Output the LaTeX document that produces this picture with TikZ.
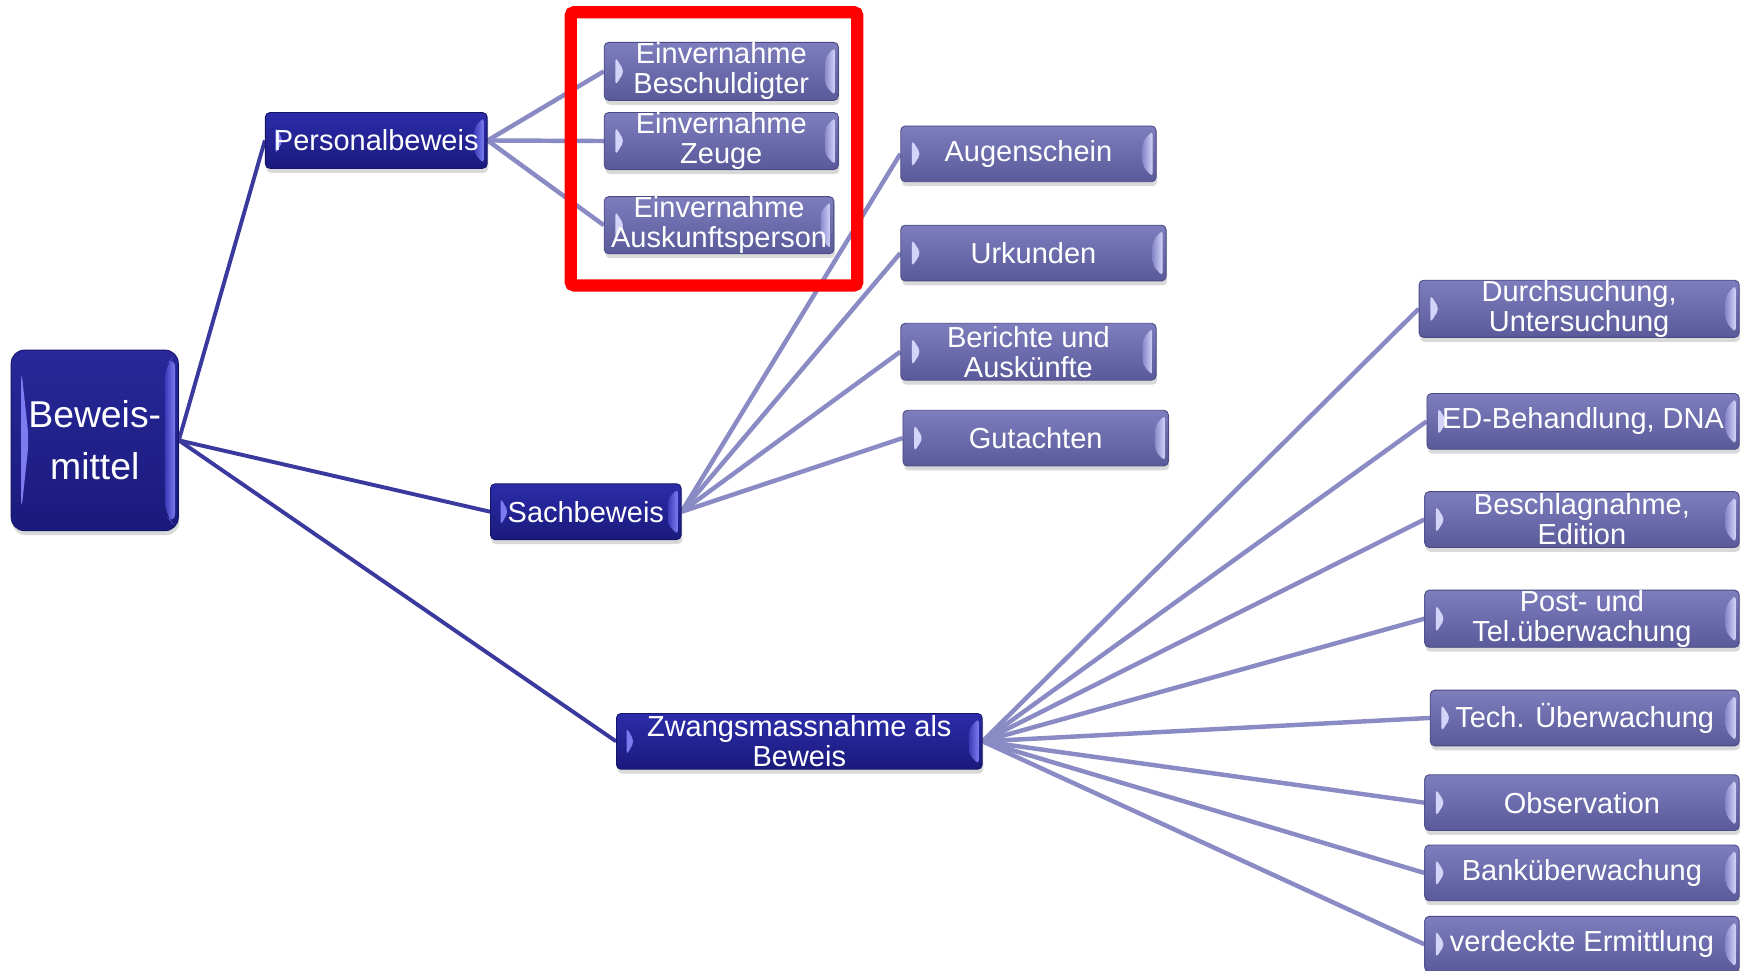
\documentclass[tikz,border=0pt]{standalone}
\usepackage{fontspec}
\setmainfont{Liberation Sans}
\usetikzlibrary{calc,shadows,backgrounds}
\definecolor{lavtop}{HTML}{7E7EBE}
\definecolor{lavbot}{HTML}{5A5A9A}
\definecolor{lavline}{HTML}{4A4A84}
\definecolor{lavhi}{HTML}{D4D4FA}
\definecolor{lavband}{HTML}{8A8ACC}
\definecolor{navtop}{HTML}{2C2CAA}
\definecolor{navbot}{HTML}{1A1A7C}
\definecolor{navline}{HTML}{14146A}
\definecolor{navhi}{HTML}{7C7CF0}
\definecolor{navband}{HTML}{3A3AB8}
\definecolor{darkconn}{HTML}{3A3A9E}
\definecolor{lightconn}{HTML}{8A8AC4}
\definecolor{hlred}{HTML}{FF0000}
\tikzset{
  corners/.style={path picture={
    \coordinate (bsw) at (path picture bounding box.south west);
    \coordinate (bne) at (path picture bounding box.north east);
    \coordinate (bnw) at (bsw|-bne);
    \coordinate (bse) at (bne|-bsw);
    \fill[#1] ($(bsw)!0.25!(bnw)+(10pt,0)$) -- ($(bsw)!0.5!(bnw)+(18pt,0)$) -- ($(bsw)!0.75!(bnw)+(10pt,0)$) -- cycle;
    \shade[left color=lavband, right color=#1] ($(bse)+(-12pt,14pt)$) -- ($(bne)+(-12pt,-14pt)$) -- ($(bne)+(-3pt,-4pt)$) -- ($(bse)+(-3pt,4pt)$) -- cycle;
  }},
  navcorners/.style={path picture={
    \coordinate (bsw) at (path picture bounding box.south west);
    \coordinate (bne) at (path picture bounding box.north east);
    \coordinate (bnw) at (bsw|-bne);
    \coordinate (bse) at (bne|-bsw);
    \fill[navhi] ($(bsw)!#1!(bnw)+(9pt,0)$) -- ($(bsw)!0.5!(bnw)+(16pt,0)$) -- ($(bnw)!#1!(bsw)+(9pt,0)$) -- cycle;
    \shade[left color=navband, right color=navhi] ($(bse)+(-12pt,14pt)$) -- ($(bne)+(-12pt,-14pt)$) -- ($(bne)+(-3pt,-4pt)$) -- ($(bse)+(-3pt,4pt)$) -- cycle;
  }},
  common/.style={rectangle, inner sep=0pt, text=white, align=center,
    font=\fontsize{26}{27}\selectfont,
    drop shadow={shadow xshift=1pt, shadow yshift=-4pt, opacity=0.3}},
  subbox/.style={common, rounded corners=4pt, draw=lavline, line width=0.8pt,
    top color=lavtop, bottom color=lavbot, minimum height=50pt, corners=lavhi},
  mainbox/.style={common, rounded corners=4pt, draw=navline, line width=0.8pt,
    top color=navtop, bottom color=navbot, minimum height=50pt, navcorners=0.25},
  rootbox/.style={common, rounded corners=12pt, draw=navline, line width=0.8pt,
    top color=navtop!90!black, bottom color=navbot, navcorners=0.1,
    font=\fontsize{33.5}{47}\selectfont},
  darkline/.style={draw=darkconn, line width=3.5pt},
  lightline/.style={draw=lightconn, line width=4pt},
  highlight/.style={draw=hlred, line width=11pt, rounded corners=3pt, inner sep=0pt}
}
\begin{document}
\begin{tikzpicture}[x=1pt,y=-1pt]
\useasboundingbox (0,0) rectangle (1568,871);
% boxes
\node[rootbox, minimum width=150pt, minimum height=162pt] (root) at (85,395) {Beweis-\\mittel};
\node[mainbox, minimum width=199pt] (pb) at (337.5,126) {Personalbeweis};
\node[mainbox, minimum width=171pt] (sb) at (525.5,459) {Sachbeweis};
\node[mainbox, minimum width=328pt] (zw) at (717,665) {Zwangsmassnahme als\\Beweis};
\node[subbox, minimum width=210pt, minimum height=52pt] (e1) at (647,64) {Einvernahme\\Beschuldigter};
\node[subbox, minimum width=210pt, minimum height=51pt] (e2) at (647,126.5) {Einvernahme\\Zeuge};
\node[subbox, minimum width=206pt] (e3) at (645,202) {Einvernahme\\Auskunftsperson};
\node[subbox, minimum width=229pt] (aug) at (922.5,138) {Augenschein};
\node[subbox, minimum width=238pt] (urk) at (927,227) {Urkunden};
\node[subbox, minimum width=229pt, minimum height=51pt] (ber) at (922.5,315.5) {Berichte und\\Auskünfte};
\node[subbox, minimum width=238pt] (gut) at (929,393) {Gutachten};
\node[subbox, minimum width=287pt] (dur) at (1416.5,277) {Durchsuchung,\\Untersuchung};
\node[subbox, minimum width=280pt] (ed) at (1420,378) {ED-Behandlung, DNA};
\node[subbox, minimum width=282pt] (bes) at (1419,466) {Beschlagnahme,\\Edition};
\node[subbox, minimum width=282pt] (post) at (1419,555) {Post- und\\Tel.überwachung};
\node[subbox, minimum width=277pt] (tech) at (1421.5,644) {Tech. Überwachung};
\node[subbox, minimum width=282pt] (obs) at (1419,720) {Observation};
\node[subbox, minimum width=282pt] (bank) at (1419,783) {Banküberwachung};
\node[subbox, minimum width=282pt] (verd) at (1419,847) {verdeckte Ermittlung};
% connectors
\begin{scope}[on background layer]
  \draw[darkline] (root.east) -- (pb.west);
  \draw[darkline] (root.east) -- (sb.west);
  \draw[darkline] (root.east) -- (zw.west);
  \foreach \t in {e1,e2,e3} \draw[lightline] (pb.east) -- (\t.west);
  \foreach \t in {aug,urk,ber,gut} \draw[lightline] (sb.east) -- (\t.west);
  \foreach \t in {dur,ed,bes,post,tech,obs,bank,verd} \draw[lightline] (zw.east) -- (\t.west);
\end{scope}
% highlight frame
\node[highlight, minimum width=257pt, minimum height=245pt] (hl) at (640.5,133.5) {};
\end{tikzpicture}
\end{document}
